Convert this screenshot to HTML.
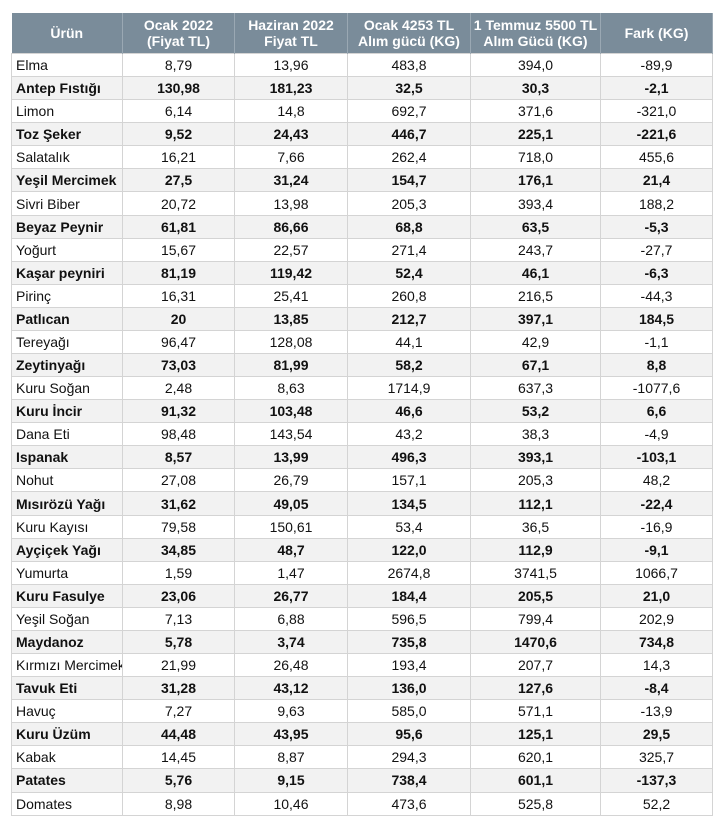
<!DOCTYPE html>
<html><head><meta charset="utf-8"><style>
body{margin:0;background:#fff;width:723px;height:828px;overflow:hidden}
table{position:absolute;left:11px;top:13px;height:803px;border-collapse:collapse;font-family:"Liberation Sans",sans-serif;font-size:14px;color:#111;table-layout:fixed;width:701px}
th{background:#7a8c9a;color:#fff;font-weight:bold;height:40px;padding:0;line-height:16px;font-size:14px;border-right:1px solid #9aa8b3}
td{padding:0;text-align:center;border:1px solid #d4d4d4;white-space:nowrap;overflow:hidden;line-height:16px}
td:first-child{text-align:left;padding-left:4px}
tr.b td{font-weight:bold;background:#f2f2f2}
</style></head><body>
<table>
<colgroup><col style="width:111px"><col style="width:112px"><col style="width:113px"><col style="width:123px"><col style="width:130px"><col style="width:112px"></colgroup>
<tr style="height:40px"><th>Ürün</th><th>Ocak 2022<br>(Fiyat TL)</th><th>Haziran 2022<br>Fiyat TL</th><th>Ocak 4253 TL<br>Alım gücü (KG)</th><th>1 Temmuz 5500 TL<br>Alım Gücü (KG)</th><th>Fark (KG)</th></tr>
<tr><td>Elma</td><td>8,79</td><td>13,96</td><td>483,8</td><td>394,0</td><td>-89,9</td></tr>
<tr class="b"><td>Antep Fıstığı</td><td>130,98</td><td>181,23</td><td>32,5</td><td>30,3</td><td>-2,1</td></tr>
<tr><td>Limon</td><td>6,14</td><td>14,8</td><td>692,7</td><td>371,6</td><td>-321,0</td></tr>
<tr class="b"><td>Toz Şeker</td><td>9,52</td><td>24,43</td><td>446,7</td><td>225,1</td><td>-221,6</td></tr>
<tr><td>Salatalık</td><td>16,21</td><td>7,66</td><td>262,4</td><td>718,0</td><td>455,6</td></tr>
<tr class="b"><td>Yeşil Mercimek</td><td>27,5</td><td>31,24</td><td>154,7</td><td>176,1</td><td>21,4</td></tr>
<tr><td>Sivri Biber</td><td>20,72</td><td>13,98</td><td>205,3</td><td>393,4</td><td>188,2</td></tr>
<tr class="b"><td>Beyaz Peynir</td><td>61,81</td><td>86,66</td><td>68,8</td><td>63,5</td><td>-5,3</td></tr>
<tr><td>Yoğurt</td><td>15,67</td><td>22,57</td><td>271,4</td><td>243,7</td><td>-27,7</td></tr>
<tr class="b"><td>Kaşar peyniri</td><td>81,19</td><td>119,42</td><td>52,4</td><td>46,1</td><td>-6,3</td></tr>
<tr><td>Pirinç</td><td>16,31</td><td>25,41</td><td>260,8</td><td>216,5</td><td>-44,3</td></tr>
<tr class="b"><td>Patlıcan</td><td>20</td><td>13,85</td><td>212,7</td><td>397,1</td><td>184,5</td></tr>
<tr><td>Tereyağı</td><td>96,47</td><td>128,08</td><td>44,1</td><td>42,9</td><td>-1,1</td></tr>
<tr class="b"><td>Zeytinyağı</td><td>73,03</td><td>81,99</td><td>58,2</td><td>67,1</td><td>8,8</td></tr>
<tr><td>Kuru Soğan</td><td>2,48</td><td>8,63</td><td>1714,9</td><td>637,3</td><td>-1077,6</td></tr>
<tr class="b"><td>Kuru İncir</td><td>91,32</td><td>103,48</td><td>46,6</td><td>53,2</td><td>6,6</td></tr>
<tr><td>Dana Eti</td><td>98,48</td><td>143,54</td><td>43,2</td><td>38,3</td><td>-4,9</td></tr>
<tr class="b"><td>Ispanak</td><td>8,57</td><td>13,99</td><td>496,3</td><td>393,1</td><td>-103,1</td></tr>
<tr><td>Nohut</td><td>27,08</td><td>26,79</td><td>157,1</td><td>205,3</td><td>48,2</td></tr>
<tr class="b"><td>Mısırözü Yağı</td><td>31,62</td><td>49,05</td><td>134,5</td><td>112,1</td><td>-22,4</td></tr>
<tr><td>Kuru Kayısı</td><td>79,58</td><td>150,61</td><td>53,4</td><td>36,5</td><td>-16,9</td></tr>
<tr class="b"><td>Ayçiçek Yağı</td><td>34,85</td><td>48,7</td><td>122,0</td><td>112,9</td><td>-9,1</td></tr>
<tr><td>Yumurta</td><td>1,59</td><td>1,47</td><td>2674,8</td><td>3741,5</td><td>1066,7</td></tr>
<tr class="b"><td>Kuru Fasulye</td><td>23,06</td><td>26,77</td><td>184,4</td><td>205,5</td><td>21,0</td></tr>
<tr><td>Yeşil Soğan</td><td>7,13</td><td>6,88</td><td>596,5</td><td>799,4</td><td>202,9</td></tr>
<tr class="b"><td>Maydanoz</td><td>5,78</td><td>3,74</td><td>735,8</td><td>1470,6</td><td>734,8</td></tr>
<tr><td>Kırmızı Mercimek</td><td>21,99</td><td>26,48</td><td>193,4</td><td>207,7</td><td>14,3</td></tr>
<tr class="b"><td>Tavuk Eti</td><td>31,28</td><td>43,12</td><td>136,0</td><td>127,6</td><td>-8,4</td></tr>
<tr><td>Havuç</td><td>7,27</td><td>9,63</td><td>585,0</td><td>571,1</td><td>-13,9</td></tr>
<tr class="b"><td>Kuru Üzüm</td><td>44,48</td><td>43,95</td><td>95,6</td><td>125,1</td><td>29,5</td></tr>
<tr><td>Kabak</td><td>14,45</td><td>8,87</td><td>294,3</td><td>620,1</td><td>325,7</td></tr>
<tr class="b"><td>Patates</td><td>5,76</td><td>9,15</td><td>738,4</td><td>601,1</td><td>-137,3</td></tr>
<tr><td>Domates</td><td>8,98</td><td>10,46</td><td>473,6</td><td>525,8</td><td>52,2</td></tr>
</table>
</body></html>
